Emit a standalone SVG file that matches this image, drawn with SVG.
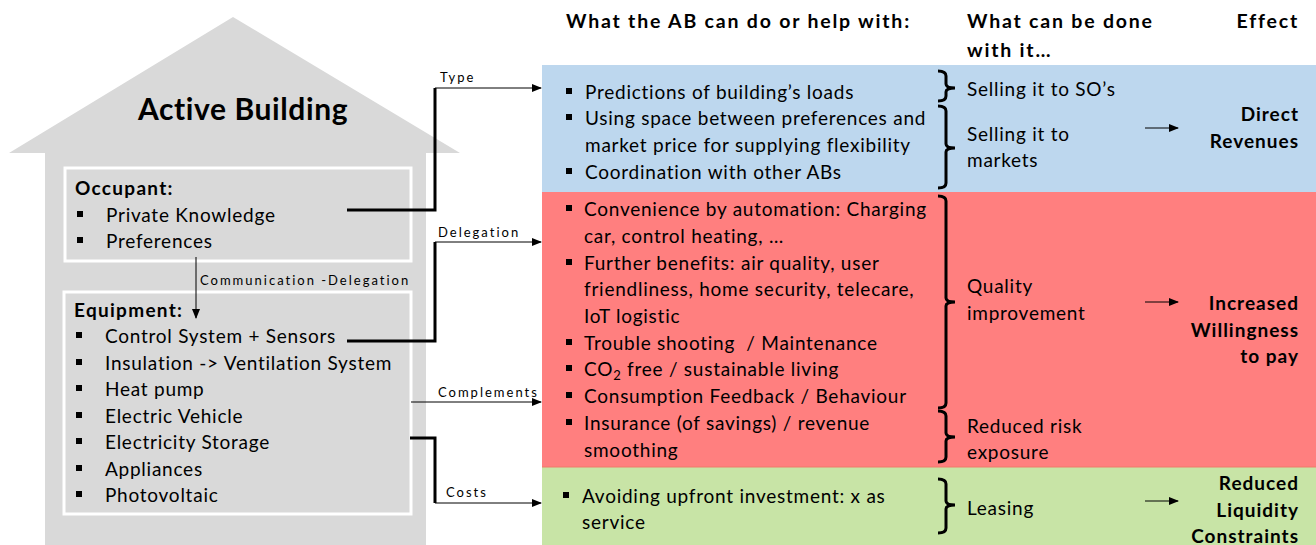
<svg xmlns="http://www.w3.org/2000/svg" xmlns:xlink="http://www.w3.org/1999/xlink" width="1316" height="545" viewBox="0 0 1316 545">
<style>
  text { font-family: Lato, "Liberation Sans", sans-serif; fill: #000; }
  .t { font-size: 19px; letter-spacing: 0.75px; }
  .b { font-size: 19px; font-weight: bold; letter-spacing: 1.3px; }
  .h { font-size: 19.5px; font-weight: bold; letter-spacing: 1.8px; }
  .eff { font-size: 19px; font-weight: bold; text-anchor: end; letter-spacing: 1px; }
  .lbl { font-size: 13px; letter-spacing: 2px; }
  .thick { stroke: #000; stroke-width: 3; fill: none; }
  .thin { stroke: #000; stroke-width: 1; fill: none; }
  .brace { stroke: #000; stroke-width: 3; fill: none; }
  .box { fill: #d9d9d9; stroke: #fff; stroke-width: 3; }
</style>
<defs>
  <marker id="arr" markerWidth="10" markerHeight="8" refX="9" refY="4" orient="auto" markerUnits="userSpaceOnUse">
    <path d="M0,0 L10,4 L0,8 Z" fill="#000"/>
  </marker>
  <rect id="bul" width="6" height="6" fill="#000"/>
</defs>

<rect width="1316" height="545" fill="#fff"/>

<!-- House -->
<g id="house">
  <polygon points="233,17 460,153 426,153 426,545 45,545 45,153 9,153" fill="#d9d9d9"/>
  <text x="243" y="120" text-anchor="middle" style="font-size:30px;font-weight:bold;letter-spacing:0.6px">Active Building</text>
</g>

<!-- Occupant -->
<g id="occupant">
  <rect class="box" x="65" y="168" width="346" height="93"/>
  <text class="b" x="75" y="195">Occupant:</text>
  <use xlink:href="#bul" x="77" y="211"/>
  <text class="t" x="106" y="222">Private Knowledge</text>
  <use xlink:href="#bul" x="77" y="237"/>
  <text class="t" x="106" y="248">Preferences</text>
</g>

<!-- Equipment -->
<g id="equipment">
  <rect class="box" x="64" y="292" width="347" height="222"/>
  <text class="b" x="74" y="317">Equipment:</text>
  <use xlink:href="#bul" x="76" y="332"/>
  <text class="t" x="105" y="343">Control System + Sensors</text>
  <use xlink:href="#bul" x="76" y="359"/>
  <text class="t" x="105" y="370">Insulation -&gt; Ventilation System</text>
  <use xlink:href="#bul" x="76" y="385"/>
  <text class="t" x="105" y="396">Heat pump</text>
  <use xlink:href="#bul" x="76" y="412"/>
  <text class="t" x="105" y="423">Electric Vehicle</text>
  <use xlink:href="#bul" x="76" y="438"/>
  <text class="t" x="105" y="449">Electricity Storage</text>
  <use xlink:href="#bul" x="76" y="465"/>
  <text class="t" x="105" y="476">Appliances</text>
  <use xlink:href="#bul" x="76" y="491"/>
  <text class="t" x="105" y="502">Photovoltaic</text>
</g>

<!-- Panels -->
<g id="panel-blue">
  <rect x="542" y="65" width="774" height="127" fill="#bdd7ee"/>
  <use xlink:href="#bul" x="566" y="88"/>
  <text class="t" x="585" y="99">Predictions of building’s loads</text>
  <use xlink:href="#bul" x="566" y="114"/>
  <text class="t" x="585" y="125">Using space between preferences and</text>
  <text class="t" x="585" y="152">market price for supplying flexibility</text>
  <use xlink:href="#bul" x="566" y="168"/>
  <text class="t" x="585" y="179">Coordination with other ABs</text>
</g>

<g id="panel-red">
  <rect x="542" y="192" width="774" height="275" fill="#ff7f7f"/>
  <use xlink:href="#bul" x="566" y="205"/>
  <text class="t" x="584" y="216">Convenience by automation: Charging</text>
  <text class="t" x="584" y="243">car, control heating, …</text>
  <use xlink:href="#bul" x="566" y="259"/>
  <text class="t" x="584" y="270">Further benefits: air quality, user</text>
  <text class="t" x="584" y="296">friendliness, home security, telecare,</text>
  <text class="t" x="584" y="323">IoT logistic</text>
  <use xlink:href="#bul" x="566" y="339"/>
  <text class="t" x="584" y="350">Trouble shooting&#160; / Maintenance</text>
  <use xlink:href="#bul" x="566" y="365"/>
  <text class="t" x="584" y="376">CO<tspan font-size="13" dy="4">2</tspan><tspan dy="-4"> free / sustainable living</tspan></text>
  <use xlink:href="#bul" x="566" y="392"/>
  <text class="t" x="584" y="403">Consumption Feedback / Behaviour</text>
  <use xlink:href="#bul" x="566" y="419"/>
  <text class="t" x="584" y="430">Insurance (of savings) / revenue</text>
  <text class="t" x="584" y="457">smoothing</text>
</g>

<g id="panel-green">
  <rect x="542" y="467" width="774" height="78" fill="#c8e4a6"/>
  <line x1="542" y1="467" x2="1316" y2="467" stroke="#ef7b6a" stroke-width="1"/>
  <use xlink:href="#bul" x="563" y="492"/>
  <text class="t" x="582" y="503">Avoiding upfront investment: x as</text>
  <text class="t" x="582" y="529">service</text>
</g>

<!-- Headers -->
<g id="headers">
  <text class="h" x="566" y="28">What the AB can do or help with:</text>
  <text class="h" x="967" y="28">What can be done</text>
  <text class="h" x="967" y="57">with it…</text>
  <text class="h" x="1299" y="28" text-anchor="end">Effect</text>
</g>

<!-- Braces -->
<g id="braces">
  <path class="brace" d="M938,71 Q946,71 946,76 V84 Q946,88 955,88 Q946,88 946,92 V96 Q946,101 938,101"/>
  <path class="brace" d="M938,106 Q946,106 946,111 V144 Q946,148 955,148 Q946,148 946,152 V183 Q946,188 938,188"/>
  <path class="brace" d="M938,196 Q946,196 946,201 V298 Q946,302 955,302 Q946,302 946,306 V403 Q946,408 938,408"/>
  <path class="brace" d="M938,411 Q946,411 946,416 V433 Q946,437 955,437 Q946,437 946,441 V457 Q946,462 938,462"/>
  <path class="brace" d="M938,479 Q946,479 946,484 V501 Q946,505 955,505 Q946,505 946,509 V528 Q946,533 938,533"/>
</g>

<!-- Middle column -->
<g id="uses">
  <text class="t" x="967" y="96">Selling it to SO’s</text>
  <text class="t" x="967" y="141">Selling it to</text>
  <text class="t" x="967" y="167">markets</text>
  <text class="t" x="967" y="293">Quality</text>
  <text class="t" x="967" y="320">improvement</text>
  <text class="t" x="967" y="433">Reduced risk</text>
  <text class="t" x="967" y="459">exposure</text>
  <text class="t" x="967" y="515">Leasing</text>
</g>

<!-- Effects -->
<g id="effects">
  <text class="eff" x="1299" y="121">Direct</text>
  <text class="eff" x="1299" y="148">Revenues</text>
  <text class="eff" x="1299" y="310">Increased</text>
  <text class="eff" x="1299" y="337">Willingness</text>
  <text class="eff" x="1299" y="363">to pay</text>
  <text class="eff" x="1299" y="490">Reduced</text>
  <text class="eff" x="1299" y="517">Liquidity</text>
  <text class="eff" x="1299" y="543">Constraints</text>
</g>

<!-- Connectors -->
<g id="connectors">
  <!-- Type -->
  <polyline class="thick" points="347,210 435,210 435,88"/>
  <line class="thin" x1="435" y1="88" x2="541" y2="88" marker-end="url(#arr)"/>
  <text class="lbl" x="440" y="82">Type</text>
  <!-- Delegation -->
  <polyline class="thick" points="347,341 435,341 435,242"/>
  <line class="thin" x1="435" y1="242" x2="541" y2="242" marker-end="url(#arr)"/>
  <text class="lbl" x="438" y="237">Delegation</text>
  <!-- Complements -->
  <line class="thin" x1="411" y1="402" x2="541" y2="402" marker-end="url(#arr)"/>
  <text class="lbl" x="438" y="397">Complements</text>
  <!-- Costs -->
  <polyline class="thick" points="410,438 435,438 435,503"/>
  <line class="thin" x1="435" y1="503" x2="541" y2="503" marker-end="url(#arr)"/>
  <text class="lbl" x="446" y="497">Costs</text>
  <!-- Communication - Delegation -->
  <line class="thin" x1="196" y1="257" x2="196" y2="318" marker-end="url(#arr)"/>
  <text class="lbl" x="200" y="285">Communication -Delegation</text>
  <!-- Effect arrows -->
  <line class="thin" x1="1145" y1="128" x2="1178" y2="128" marker-end="url(#arr)"/>
  <line class="thin" x1="1145" y1="302" x2="1178" y2="302" marker-end="url(#arr)"/>
  <line class="thin" x1="1145" y1="501" x2="1178" y2="501" marker-end="url(#arr)"/>
</g>
</svg>
